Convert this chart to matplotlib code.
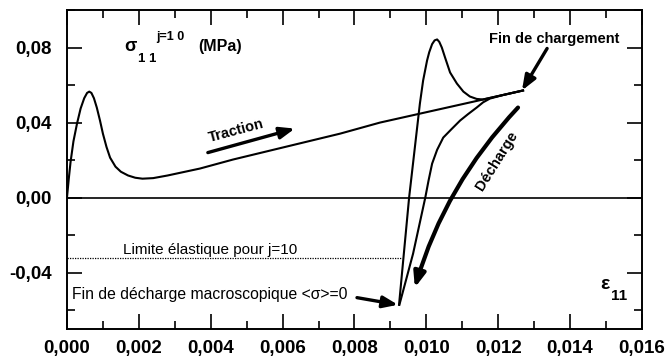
import numpy as np
import matplotlib
matplotlib.use('Agg')
import matplotlib.pyplot as plt
from matplotlib.ticker import MultipleLocator, FuncFormatter

plt.rcParams['font.family'] = ['Liberation Sans', 'DejaVu Sans']

# loading curve (traction)
load_x = [0, 0.00005, 0.0001, 0.00018, 0.00028, 0.00038, 0.00048, 0.00056, 0.00062,
          0.00068, 0.00075, 0.00083, 0.00092, 0.0010, 0.0011, 0.0012, 0.00135,
          0.0015, 0.0017, 0.0019, 0.0021, 0.0024, 0.0028, 0.0037, 0.00462,
          0.0076, 0.00871, 0.01158, 0.01269]
load_y = [0, 0.010, 0.019, 0.030, 0.0395, 0.0475, 0.0530, 0.0558, 0.0565,
          0.0558, 0.0530, 0.0480, 0.0410, 0.0341, 0.0270, 0.0213, 0.0165,
          0.0138, 0.0118, 0.0106, 0.0101, 0.0104, 0.0118, 0.0155, 0.0203,
          0.0341, 0.0400, 0.0523, 0.0571]

# unloading curve with peak
hump_x = [0.01269, 0.01157, 0.0114, 0.01121, 0.01103, 0.01085, 0.01066, 0.01052,
          0.01043, 0.01036, 0.0103, 0.01023, 0.01016, 0.01008, 0.01002, 0.00991,
          0.00982, 0.00952, 0.00924]
hump_y = [0.0571, 0.0523, 0.0526, 0.0539, 0.0565, 0.0608, 0.0667, 0.0747,
          0.0800, 0.0830, 0.0843, 0.0838, 0.0818, 0.0775, 0.0731, 0.0624,
          0.0501, 0.0, -0.0571]

# unloading curve without peak
unl_x = [0.01269, 0.01210, 0.01177, 0.01158, 0.0114, 0.01116, 0.01094, 0.0107,
         0.01047, 0.0103, 0.01016, 0.01006, 0.00997, 0.00963, 0.00925]
unl_y = [0.0571, 0.0545, 0.0528, 0.0508, 0.0480, 0.0445, 0.0411, 0.0365,
         0.0320, 0.0255, 0.0181, 0.0090, 0.0, -0.0299, -0.0571]

limite = -0.032
limite_x = [0, 0.00932]

fig = plt.figure(figsize=(6.67, 3.63), dpi=100)
ax = fig.add_axes([0.1004, 0.0937, 0.8621, 0.8788])

lw = 1.5
ax.plot(load_x, load_y, color='black', lw=lw, solid_joinstyle='round')
ax.plot(hump_x, hump_y, color='black', lw=lw, solid_joinstyle='round')
ax.plot(unl_x, unl_y, color='black', lw=lw, solid_joinstyle='round')
ax.axhline(0, color='black', lw=1.2)
ax.plot(limite_x, [limite, limite], color='black', lw=0.9, linestyle=(0, (1, 1)))

ax.set_xlim(0, 0.016)
ax.set_ylim(-0.07, 0.10)

ax.xaxis.set_major_locator(MultipleLocator(0.002))
ax.xaxis.set_minor_locator(MultipleLocator(0.001))
ax.yaxis.set_major_locator(MultipleLocator(0.04))
ax.yaxis.set_minor_locator(MultipleLocator(0.02))

def fx(v, pos):
    if abs(v) < 1e-9:
        v = 0.0
    return ('%.3f' % v).replace('.', ',')

def fy(v, pos):
    if abs(v) < 1e-9:
        v = 0.0
    return ('%.2f' % v).replace('.', ',')

ax.xaxis.set_major_formatter(FuncFormatter(fx))
ax.yaxis.set_major_formatter(FuncFormatter(fy))

ax.tick_params(which='both', direction='in', top=True, right=True, width=1.2,
               labelsize=13.5)
ax.tick_params(axis='x', pad=8)
ax.tick_params(axis='y', pad=11)
ax.tick_params(which='major', length=11)
ax.tick_params(which='minor', length=6)
for lab in ax.get_xticklabels() + ax.get_yticklabels():
    lab.set_fontweight('bold')
for s in ax.spines.values():
    s.set_linewidth(1.4)

# axis labels inside the plot
ax.text(0.00176, 0.0808, 'σ', fontsize=13, fontweight='bold', ha='center', va='center')
ax.text(0.00222, 0.0738, '1 1', fontsize=9.5, fontweight='bold', ha='center', va='center')
ax.text(0.00287, 0.0855, 'j=1 0', fontsize=9, fontweight='bold', ha='center', va='center')
ax.text(0.00365, 0.0805, '(MPa)', fontsize=11.5, fontweight='bold', ha='left', va='center')
ax.text(0.01497, -0.0462, 'ε', fontsize=14, fontweight='bold', ha='center', va='center')
ax.text(0.01536, -0.0523, '11', fontsize=11, fontweight='bold', ha='center', va='center')

arrow = dict(arrowstyle='-|>,head_length=0.9,head_width=0.35', color='black', lw=2.4,
             shrinkA=0, shrinkB=0)

ax.annotate('', xy=(0.00634, 0.0368), xytext=(0.00392, 0.024), arrowprops=arrow)
ax.text(0.0047, 0.0357, 'Traction', fontsize=10.5, fontweight='bold', rotation=15,
        ha='center', va='center')

ax.annotate('', xy=(0.01266, 0.0571), xytext=(0.01336, 0.0795), arrowprops=arrow)
ax.text(0.01355, 0.0843, 'Fin de chargement', fontsize=10.5, fontweight='bold',
        ha='center', va='center')

ax.annotate('', xy=(0.00968, -0.048), xytext=(0.01255, 0.048),
            arrowprops=dict(arrow, lw=3, connectionstyle='arc3,rad=0.12'))
ax.text(0.01197, 0.0197, 'Décharge', fontsize=10.5, fontweight='bold', rotation=58,
        ha='center', va='center')

ax.annotate('', xy=(0.00921, -0.0571), xytext=(0.00807, -0.0533), arrowprops=arrow)
ax.text(0.00014, -0.0517, 'Fin de décharge macroscopique <σ>=0', fontsize=11.3,
        ha='left', va='center')

ax.text(0.00398, -0.0277, 'Limite élastique pour j=10', fontsize=11,
        ha='center', va='center')

fig.savefig('out.png', dpi=100)
